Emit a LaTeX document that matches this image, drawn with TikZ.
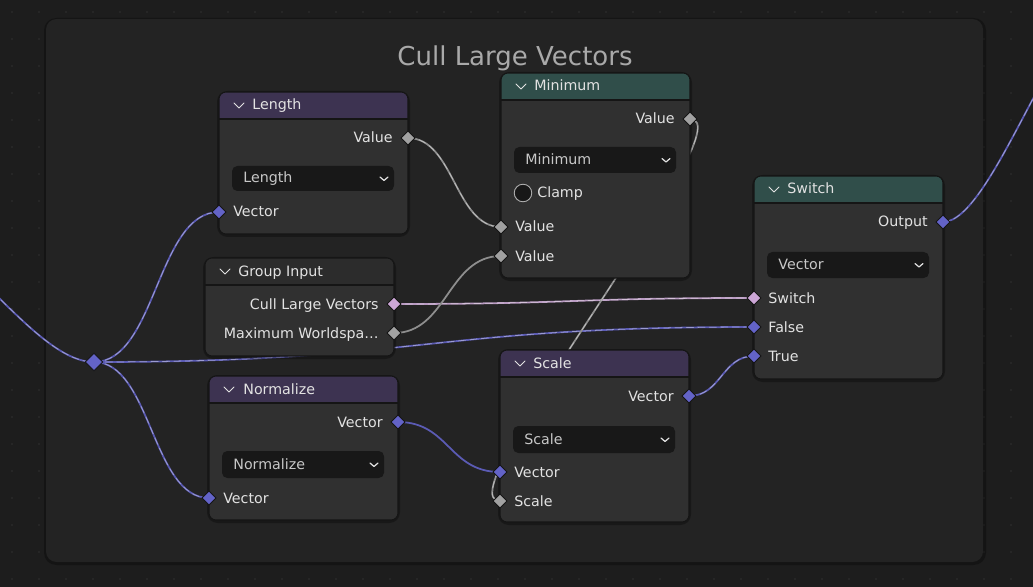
\documentclass[tikz,border=0pt]{standalone}
\usepackage{fontspec}
\setmainfont{DejaVu Sans}
\usetikzlibrary{shapes.geometric}
\definecolor{bgc}{HTML}{1D1D1D}
\definecolor{dotc}{HTML}{2A2A2A}
\definecolor{framec}{HTML}{232323}
\definecolor{bodyc}{HTML}{303030}
\definecolor{edgec}{HTML}{151515}
\definecolor{headvec}{HTML}{3D3351}
\definecolor{headmath}{HTML}{304E4A}
\definecolor{headin}{HTML}{2C2C2C}
\definecolor{dropc}{HTML}{181818}
\definecolor{txtc}{HTML}{E2E2E2}
\definecolor{titlec}{HTML}{A9A9A9}
\definecolor{vecblue}{HTML}{6363C7}
\definecolor{fltgray}{HTML}{A1A1A1}
\definecolor{boolpink}{HTML}{CCA6D6}
\definecolor{veclinkc}{HTML}{5B5BB4}
\definecolor{fltlinkc}{HTML}{8E8E8E}
\definecolor{boollinkc}{HTML}{B99AC2}
\pgfdeclarelayer{bg}
\pgfdeclarelayer{links}
\pgfsetlayers{bg,links,main}
\tikzset{
	sock/.style={diamond, draw=edgec, line width=0.5pt, inner sep=0pt, minimum size=0.29cm},
	vecsock/.style={sock, fill=vecblue},
	fltsock/.style={sock, fill=fltgray},
	boolsock/.style={sock, fill=boolpink},
	lbl/.style={text=txtc, font=\fontsize{8.1}{10}\selectfont, inner sep=0pt},
	droplbl/.style={lbl, text=txtc!88!black},
	titletxt/.style={text=titlec, font=\fontsize{14.8}{17}\selectfont, inner sep=0pt, anchor=base},
	link/.style={line width=1pt, line cap=round},
	veclink/.style={link, draw=veclinkc},
	fltlink/.style={link, draw=fltlinkc},
	boollink/.style={link, draw=boollinkc},
	field/.style={postaction={draw=white, draw opacity=0.4, line width=0.45pt, dash pattern=on 4pt off 2.5pt}},
	chev/.style={draw=txtc, line width=0.55pt, line cap=round, line join=round}
}
\begin{document}
\begin{tikzpicture}[x=0.02cm, y=-0.02cm]
	\useasboundingbox (0,0) rectangle (1033,587);
	\begin{pgfonlayer}{bg}
	\fill[bgc] (0,0) rectangle (1033,587);
	\foreach \x in {12,39,...,1033}
	\foreach \y in {12,39,...,587}
	{
		\fill[dotc] (\x,\y) circle (0.6pt);
	}
	\fill[black, opacity=0.3, rounded corners=7] (44,18) rectangle (986,565);
	\fill[framec, rounded corners=6] (46,19) rectangle (983,562);
	\end{pgfonlayer}
	\node[titletxt] (frameTitle) at (515,66) {Cull Large Vectors};
	\foreach \l/\t/\r/\hb/\b/\hc in {219/92/408/119/234/headvec, 501/73/690/100/278/headmath, 205/258/394/285/356/headin, 209/376/398/403/520/headvec, 500/350/689/377/522/headvec, 754/176/943/203/379/headmath}
	{
		\fill[black, opacity=0.3, rounded corners=6] (\l-2,\t-1) rectangle (\r+2,\b+3);
		\begin{scope}
			\clip[rounded corners=4] (\l,\t) rectangle (\r,\b);
			\fill[bodyc] (\l,\t) rectangle (\r,\b);
			\fill[\hc] (\l,\t) rectangle (\r,\hb);
			\draw[edgec, line width=0.8pt] (\l,\hb) -- (\r,\hb);
		\end{scope}
		\draw[edgec, line width=0.6pt, rounded corners=4] (\l,\t) rectangle (\r,\b);
		\draw[chev] ({\l+15},{(\t+\hb)/2-2.5}) -- ({\l+20},{(\t+\hb)/2+2.5}) -- ({\l+25},{(\t+\hb)/2-2.5});
	}
	\foreach \l/\t/\r/\b in {232/166/394/191, 514/147/676/173, 222/451/384/478, 513/426/675/453, 767/252/929/278}
	{
		\fill[dropc, rounded corners=3] (\l,\t) rectangle (\r,\b);
		\draw[chev, line width=0.7pt] ({\r-14},{(\t+\b)/2-1.5}) -- ({\r-10},{(\t+\b)/2+2}) -- ({\r-6},{(\t+\b)/2-1.5});
	}
	\filldraw[fill=dropc, draw=black!55!white!55, line width=0.5pt] (523,193) circle (5pt);
	% Length
	\node[lbl, anchor=base west] (lenHead) at (252,110) {Length};
	\node[lbl, anchor=base east] (lenOutLbl) at (393,143) {Value};
	\node[droplbl, anchor=base west] (lenMode) at (243,183) {Length};
	\node[lbl, anchor=base west] (lenInLbl) at (233,217) {Vector};
	\node[fltsock] (lenOut) at (408,138) {};
	\node[vecsock] (lenIn) at (219,212) {};
	% Minimum
	\node[lbl, anchor=base west] (minHead) at (534,91) {Minimum};
	\node[lbl, anchor=base east] (minOutLbl) at (675,124) {Value};
	\node[droplbl, anchor=base west] (minMode) at (525,165) {Minimum};
	\node[lbl, anchor=base west] (minClamp) at (537,198) {Clamp};
	\node[lbl, anchor=base west] (minInALbl) at (515,232) {Value};
	\node[lbl, anchor=base west] (minInBLbl) at (515,261) {Value};
	\node[fltsock] (minOut) at (690,119) {};
	\node[fltsock] (minInA) at (501,227) {};
	\node[fltsock] (minInB) at (501,256) {};
	% Group Input
	\node[lbl, anchor=base west] (giHead) at (238,276) {Group Input};
	\node[lbl, anchor=base east] (giCullLbl) at (379,309) {Cull Large Vectors};
	\node[lbl, anchor=base east] (giMaxLbl) at (379,338) {Maximum Worldspa…};
	\node[boolsock] (giCull) at (394,304) {};
	\node[fltsock] (giMax) at (394,333) {};
	% Normalize
	\node[lbl, anchor=base west] (normHead) at (243,394) {Normalize};
	\node[lbl, anchor=base east] (normOutLbl) at (383,427) {Vector};
	\node[droplbl, anchor=base west] (normMode) at (233,469) {Normalize};
	\node[lbl, anchor=base west] (normInLbl) at (223,503) {Vector};
	\node[vecsock] (normOut) at (398,422) {};
	\node[vecsock] (normIn) at (209,498) {};
	% Scale
	\node[lbl, anchor=base west] (scHead) at (533,368) {Scale};
	\node[lbl, anchor=base east] (scOutLbl) at (674,401) {Vector};
	\node[droplbl, anchor=base west] (scMode) at (524,444) {Scale};
	\node[lbl, anchor=base west] (scVecLbl) at (514,477) {Vector};
	\node[lbl, anchor=base west] (scScaleLbl) at (514,506) {Scale};
	\node[vecsock] (scOut) at (689,396) {};
	\node[vecsock] (scVec) at (500,472) {};
	\node[fltsock] (scScale) at (500,501) {};
	% Switch
	\node[lbl, anchor=base west] (swHead) at (787,194) {Switch};
	\node[lbl, anchor=base east] (swOutLbl) at (928,227) {Output};
	\node[droplbl, anchor=base west] (swMode) at (778,270) {Vector};
	\node[lbl, anchor=base west] (swSwLbl) at (768,303) {Switch};
	\node[lbl, anchor=base west] (swFLbl) at (768,332) {False};
	\node[lbl, anchor=base west] (swTLbl) at (768,361) {True};
	\node[vecsock] (swOut) at (943,222) {};
	\node[boolsock] (swSw) at (754,298) {};
	\node[vecsock] (swF) at (754,327) {};
	\node[vecsock] (swT) at (754,356) {};
	% reroute and links
	\node[vecsock, minimum size=0.36cm] (reroute) at (94,362) {};
	\coordinate (inL) at (-100,230);
	\coordinate (outR) at (1110,0);
	\begin{pgfonlayer}{links}
	\draw[veclink, field] (inL) .. controls +(60,0) and +(-60,0) .. (reroute.center);
	\draw[veclink, field] (reroute.center) .. controls +(62,0) and +(-62,0) .. (lenIn.center);
	\draw[veclink, field] (reroute.center) .. controls +(57,0) and +(-57,0) .. (normIn.center);
	\draw[veclink, field] (reroute.center) .. controls +(330,0) and +(-330,0) .. (swF.center);
	\draw[boollink, field] (giCull.center) .. controls +(180,0) and +(-180,0) .. (swSw.center);
	\draw[fltlink] (giMax.center) .. controls +(53,0) and +(-53,0) .. (minInB.center);
	\draw[fltlink, field] (lenOut.center) .. controls +(46,0) and +(-46,0) .. (minInA.center);
	\draw[fltlink, field] (minOut.center) .. controls +(60,0) and +(-60,0) .. (scScale.center);
	\draw[veclink] (normOut.center) .. controls +(51,0) and +(-51,0) .. (scVec.center);
	\draw[veclink, field] (scOut.center) .. controls +(32,0) and +(-32,0) .. (swT.center);
	\draw[veclink, field] (swOut.center) .. controls +(50,0) and +(-50,0) .. (outR);
	\end{pgfonlayer}
\end{tikzpicture}
\end{document}
